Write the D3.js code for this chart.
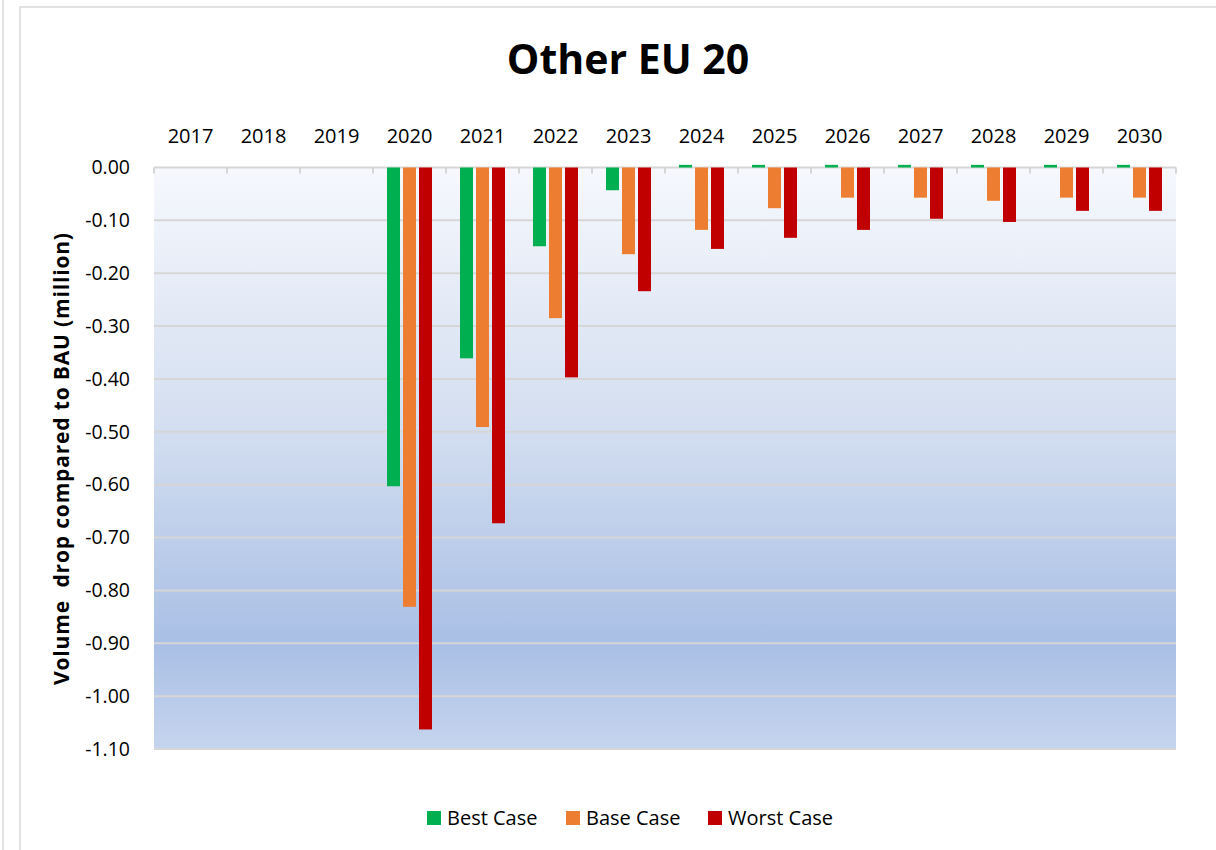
<!DOCTYPE html>
<html>
<head>
<meta charset="utf-8">
<script src="https://cdn.jsdelivr.net/npm/d3@7"></script>
<style>
  body { margin: 0; background: #fff; }
  text { font-family: "Open Sans", sans-serif; fill: #000; }
</style>
</head>
<body>
<div id="graph"></div>
<script>
// chart data (million, vs BAU)
const years = ["2017", "2018", "2019", "2020", "2021", "2022", "2023",
               "2024", "2025", "2026", "2027", "2028", "2029", "2030"];
const bestCase  = [null, null, null, -0.603, -0.361, -0.149, -0.043, 0.005, 0.005, 0.005, 0.005, 0.005, 0.005, 0.005];
const baseCase  = [null, null, null, -0.831, -0.491, -0.285, -0.164, -0.118, -0.077, -0.057, -0.057, -0.063, -0.057, -0.057];
const worstCase = [null, null, null, -1.063, -0.673, -0.397, -0.234, -0.154, -0.133, -0.118, -0.097, -0.103, -0.082, -0.082];
const seriesNames = ["Best Case", "Base Case", "Worst Case"];
const seriesColors = ["#00b050", "#ed7d31", "#c00000"];
const yTicks = [0, -0.1, -0.2, -0.3, -0.4, -0.5, -0.6, -0.7, -0.8, -0.9, -1.0, -1.1];

const width = 1216, height = 850;
const plot = {left: 154, right: 1176, top: 167.5, bottom: 749};

const svg = d3.select("#graph").append("svg")
  .attr("width", width)
  .attr("height", height);

// frame lines
svg.append("line").attr("x1", 3).attr("x2", 3).attr("y1", 0).attr("y2", height)
  .attr("stroke", "#d9d9d9").attr("stroke-width", 1.5);
svg.append("rect").attr("x", 20).attr("y", 7).attr("width", 1220).attr("height", 900)
  .attr("fill", "#fff").attr("stroke", "#d9d9d9").attr("stroke-width", 1.5);

// scales
const x0 = d3.scaleBand().domain(years).range([plot.left, plot.right]);
const x1 = d3.scaleBand().domain(seriesNames).range([0, x0.bandwidth()])
  .paddingInner(0.1875).paddingOuter(0.875);
const y = d3.scaleLinear().domain([0, -1.1]).range([plot.top, plot.bottom]);

// plot area gradient
const grad = svg.append("defs").append("linearGradient")
  .attr("id", "bg").attr("x1", 0).attr("y1", 0).attr("x2", 0).attr("y2", 1);
grad.append("stop").attr("offset", "0%").attr("stop-color", "#f6f8fd");
grad.append("stop").attr("offset", "45%").attr("stop-color", "#d3def0");
grad.append("stop").attr("offset", "82%").attr("stop-color", "#a9bfe5");
grad.append("stop").attr("offset", "100%").attr("stop-color", "#c6d5ee");

svg.append("rect")
  .attr("x", plot.left).attr("y", plot.top)
  .attr("width", plot.right - plot.left).attr("height", plot.bottom - plot.top)
  .attr("fill", "url(#bg)");

// gridlines
svg.selectAll(".grid")
  .data(yTicks)
  .enter().append("line")
  .attr("class", "grid")
  .attr("x1", plot.left).attr("x2", plot.right)
  .attr("y1", d => y(d)).attr("y2", d => y(d))
  .attr("stroke", "#d6d6d6")
  .attr("stroke-width", 2);

// tick marks between categories on the zero line
svg.selectAll(".cattick")
  .data(years.concat(["end"]))
  .enter().append("line")
  .attr("class", "cattick")
  .attr("x1", (d, i) => i < years.length ? x0(d) : plot.right)
  .attr("x2", (d, i) => i < years.length ? x0(d) : plot.right)
  .attr("y1", y(0)).attr("y2", y(0) + 6)
  .attr("stroke", "#d6d6d6")
  .attr("stroke-width", 2);

// bars
const allSeries = [bestCase, baseCase, worstCase];
allSeries.forEach((vals, s) => {
  svg.append("g").selectAll("rect")
    .data(vals.map((v, i) => ({year: years[i], v: v})).filter(d => d.v !== null))
    .enter().append("rect")
    .attr("x", d => x0(d.year) + x1(seriesNames[s]))
    .attr("width", x1.bandwidth())
    .attr("y", d => y(Math.max(0, d.v)))
    .attr("height", d => Math.abs(y(d.v) - y(0)))
    .attr("fill", seriesColors[s]);
});

// axes
const fmt = d3.formatLocale({decimal: ".", thousands: ",", grouping: [3], currency: ["", ""], minus: "-"}).format(".2f");
const yAxis = svg.append("g")
  .attr("transform", "translate(" + plot.left + ",0)")
  .call(d3.axisLeft(y).tickValues(yTicks).tickFormat(fmt).tickSize(0).tickPadding(24));
yAxis.select(".domain").remove();
yAxis.selectAll("text").style("font-size", "19.5px").style("font-family", "'Open Sans', sans-serif");

const xAxis = svg.append("g")
  .attr("transform", "translate(0," + plot.top + ")")
  .call(d3.axisTop(x0).tickSize(0).tickPadding(25));
xAxis.select(".domain").remove();
xAxis.selectAll("text").style("font-size", "20px").style("font-family", "'Open Sans', sans-serif");

// title
svg.append("text")
  .attr("x", 628).attr("y", 74)
  .attr("text-anchor", "middle")
  .style("font-size", "41px").style("font-weight", "bold")
  .text("Other EU 20");

// y axis title
svg.append("text")
  .attr("transform", "translate(69,459) rotate(-90)")
  .attr("text-anchor", "middle")
  .attr("textLength", 452)
  .attr("lengthAdjust", "spacing")
  .style("font-size", "21px").style("font-weight", "bold")
  .style("white-space", "pre")
  .text("Volume  drop compared to BAU (million)");

// legend
const legendX = [427, 566, 708];
const legend = svg.selectAll(".legend")
  .data(seriesNames)
  .enter().append("g")
  .attr("class", "legend")
  .attr("transform", (d, i) => "translate(" + legendX[i] + ",811)");
legend.append("rect")
  .attr("width", 14).attr("height", 14)
  .attr("fill", (d, i) => seriesColors[i]);
legend.append("text")
  .attr("x", 20).attr("y", 14)
  .style("font-size", "20px")
  .text(d => d);
</script>
</body>
</html>
